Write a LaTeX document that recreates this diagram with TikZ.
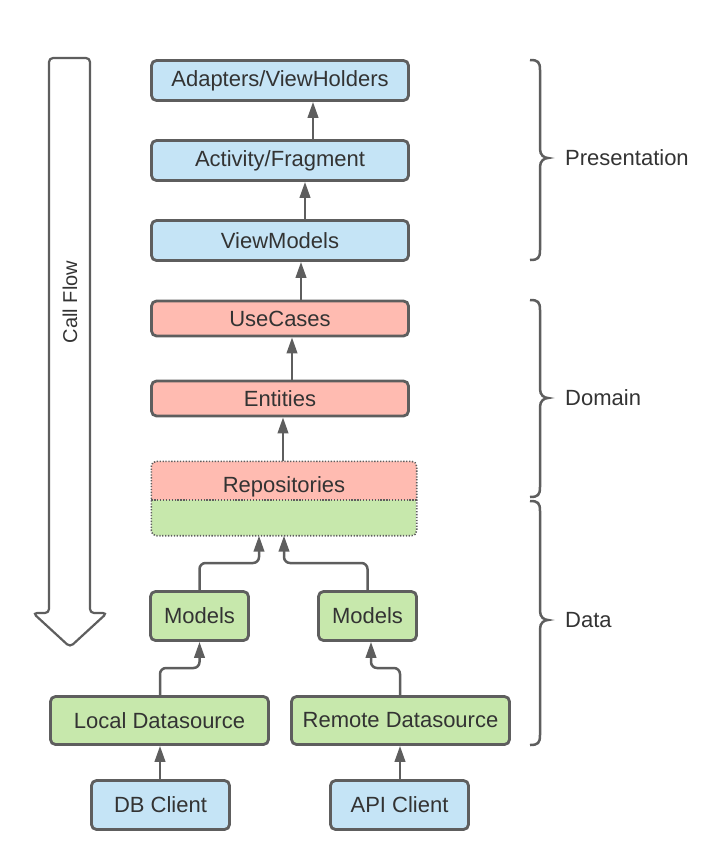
\documentclass[tikz,border=0pt]{standalone}
\usepackage{fontspec}
\setmainfont{Liberation Sans}
\usetikzlibrary{arrows.meta}
\definecolor{pblue}{HTML}{C5E4F6}
\definecolor{pred}{HTML}{FFBBB1}
\definecolor{pgreen}{HTML}{C7E8AC}
\definecolor{edge}{HTML}{5E5E5E}
\definecolor{txt}{HTML}{333333}
\tikzset{
  box/.style={draw=edge, line width=2.8pt, rounded corners=5pt, inner sep=0pt,
    text=txt, font=\fontsize{22}{24}\selectfont},
  bluebox/.style={box, fill=pblue},
  redbox/.style={box, fill=pred},
  greenbox/.style={box, fill=pgreen},
  arr/.style={draw=edge, line width=2.5pt, -{Triangle[length=16pt,width=10.5pt]}},
  brace/.style={draw=edge, line width=2.5pt},
  lbl/.style={anchor=west, text=txt, font=\fontsize{22}{24}\selectfont, inner sep=0pt},
}
\begin{document}
\begin{tikzpicture}[x=1pt,y=-1pt]
\useasboundingbox (0,0) rectangle (709,857);

% Call flow arrow
\draw[draw=edge, line width=2.2pt, fill=white, rounded corners=4pt]
  (49,58) -- (90,58) -- (90,613) -- (107,613) -- (70,647) -- (33,613) -- (49,613) -- cycle;
\node[rotate=90, text=txt, font=\fontsize{20}{22}\selectfont] (cf) at (70,302) {Call Flow};

% Presentation
\node[bluebox, minimum width=257pt, minimum height=40pt] (ad) at (280,80.5) {Adapters/ViewHolders};
\node[bluebox, minimum width=257pt, minimum height=40pt] (af) at (280,160.5) {Activity/Fragment};
\node[bluebox, minimum width=257pt, minimum height=40pt] (vm) at (280,240.5) {ViewModels};

% Domain
\node[redbox, minimum width=257pt, minimum height=35pt] (uc) at (280,318.5) {UseCases};
\node[redbox, minimum width=257pt, minimum height=35pt] (en) at (280,398.5) {Entities};

% Repositories
\node[minimum width=265pt, minimum height=74pt, inner sep=0pt] (repo) at (284,498.5) {};
\begin{scope}
  \clip[rounded corners=5pt] (repo.south west) rectangle (repo.north east);
  \fill[pred] (repo.north west) rectangle (418,500);
  \fill[pgreen] (150,500) rectangle (repo.south east);
\end{scope}
\draw[edge, line width=1.6pt, dash pattern=on 1.3pt off 1.6pt] (repo.west |- 0,500) -- (repo.east |- 0,500);
\draw[edge, line width=1.6pt, dash pattern=on 1.3pt off 1.6pt, rounded corners=5pt] (repo.south west) rectangle (repo.north east);
\node[text=txt, font=\fontsize{22}{24}\selectfont] (repot) at (284,487) {Repositories};

% Data
\node[greenbox, minimum width=98pt, minimum height=49pt] (ml) at (199.5,616) {Models};
\node[greenbox, minimum width=98pt, minimum height=49pt] (mr) at (367.5,616) {Models};
\node[greenbox, minimum width=218pt, minimum height=48pt] (ld) at (159.5,720.5) {Local Datasource};
\node[greenbox, minimum width=218pt, minimum height=48pt] (rd) at (400.5,720.5) {Remote Datasource};
\node[bluebox, minimum width=138pt, minimum height=49pt] (db) at (160.5,805) {DB Client};
\node[bluebox, minimum width=138pt, minimum height=49pt] (api) at (399.5,805) {API Client};

% Arrows
\draw[arr] ([xshift=33pt]af.north) -- ([xshift=33pt]ad.south);
\draw[arr] ([xshift=25pt]vm.north) -- ([xshift=25pt]af.south);
\draw[arr] ([xshift=21pt]uc.north) -- ([xshift=21pt]vm.south);
\draw[arr] ([xshift=12pt]en.north) -- ([xshift=12pt]uc.south);
\draw[arr] (repo.north -| 283,0) -- (en.south -| 283,0);

\coordinate (b1) at (199.5,563);
\coordinate (b2) at (259,563);
\coordinate (b3) at (367.5,563);
\coordinate (b4) at (284,563);
\draw[arr, rounded corners=6pt] (ml.north) -- (b1) -- (b2) -- (b2 |- repo.south);
\draw[arr, rounded corners=6pt] (mr.north) -- (b3) -- (b4) -- (b4 |- repo.south);

\coordinate (c1) at (160,668);
\coordinate (c2) at (199.5,668);
\coordinate (c3) at (400,668);
\coordinate (c4) at (371,668);
\draw[arr, rounded corners=6pt] (ld.north -| c1) -- (c1) -- (c2) -- (ml.south);
\draw[arr, rounded corners=6pt] (rd.north -| c3) -- (c3) -- (c4) -- (c4 |- mr.south);

\draw[arr] (db.north -| 160,0) -- (ld.south -| 160,0);
\draw[arr] (api.north -| 400,0) -- (rd.south -| 400,0);

% Braces
\foreach \ya/\yt/\yb in {60/158/260, 300/398/497, 501/620/745}{
  \draw[brace] (530,\ya) .. controls (538,\ya) and (540,\ya+2) .. (540,\ya+10)
    -- (540,\yt-9) .. controls (540,\yt-3) and (544,\yt) .. (548,\yt)
    .. controls (544,\yt) and (540,\yt+3) .. (540,\yt+9)
    -- (540,\yb-10) .. controls (540,\yb-2) and (538,\yb) .. (530,\yb);
}
\node[lbl] (lp) at (565,158) {Presentation};
\node[lbl] (ldm) at (565,398) {Domain};
\node[lbl] (lda) at (565,620) {Data};
\end{tikzpicture}
\end{document}
